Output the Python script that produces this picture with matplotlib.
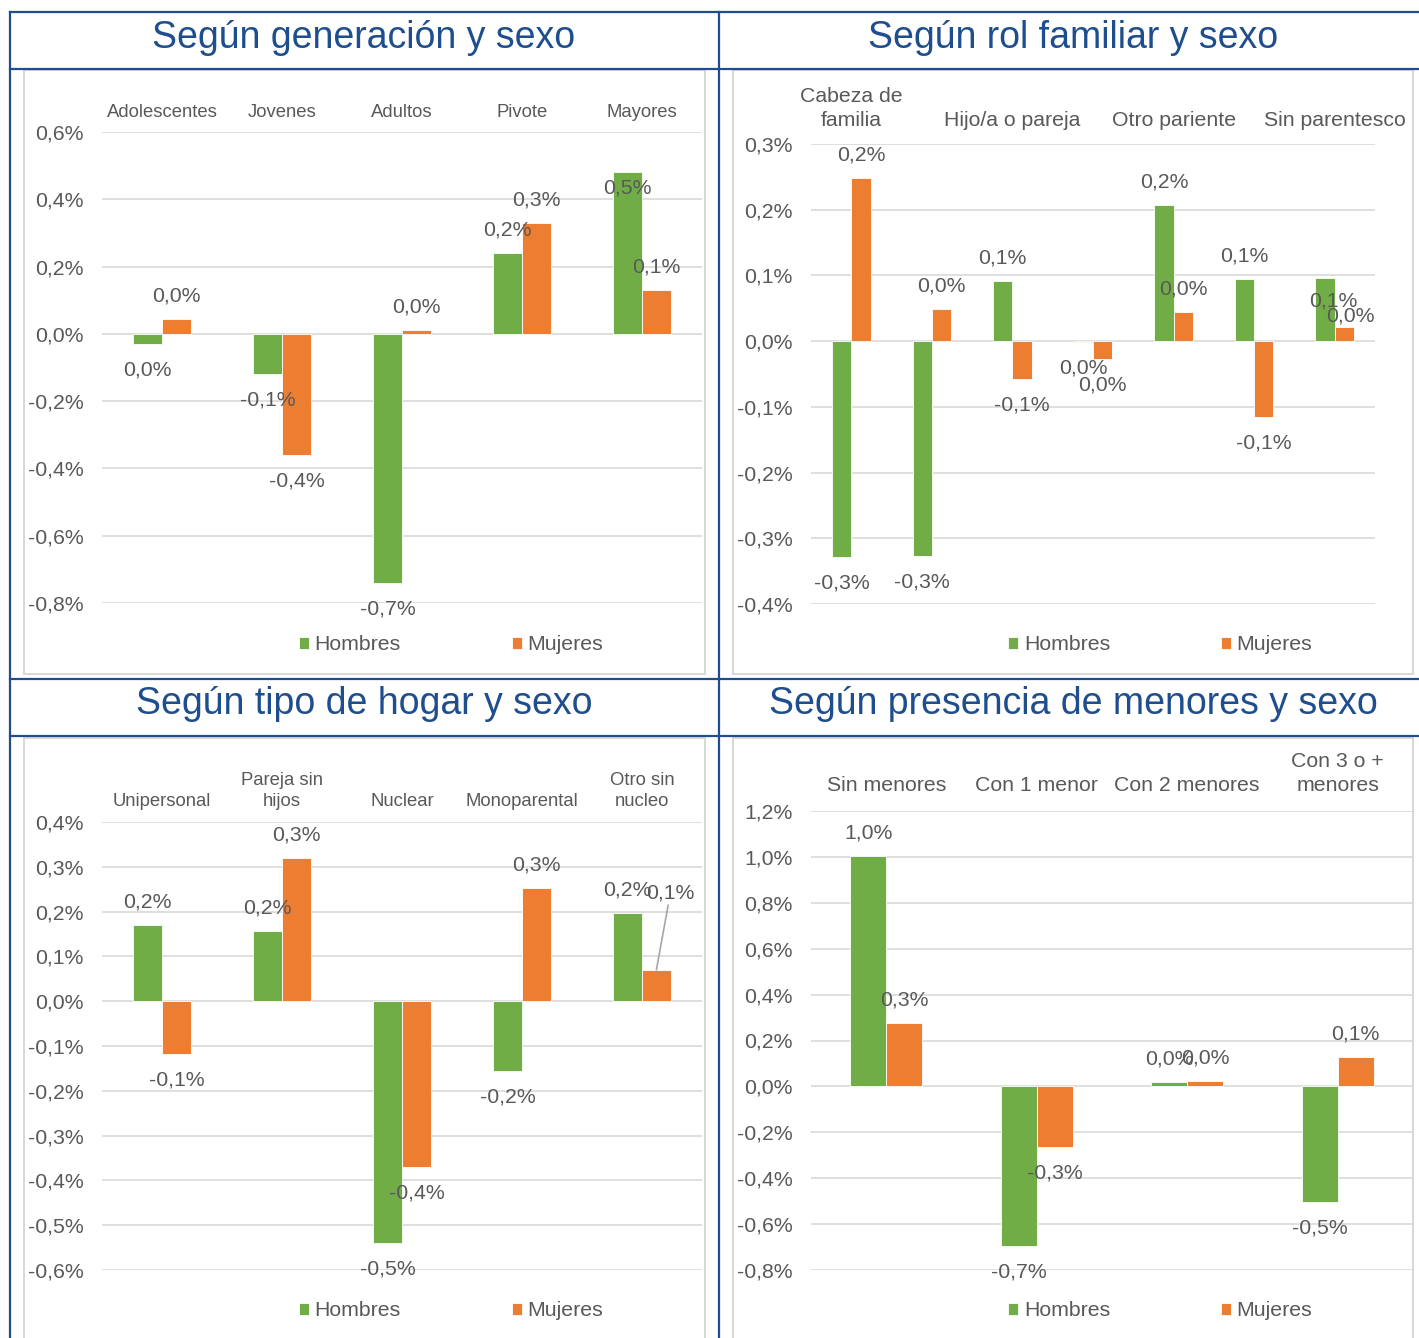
import matplotlib
matplotlib.use('Agg')
import matplotlib.pyplot as plt
from matplotlib.lines import Line2D
from matplotlib.patches import Rectangle
from matplotlib.ticker import FixedLocator, FuncFormatter
import numpy as np

plt.rcParams['font.family'] = ['Liberation Sans', 'DejaVu Sans']

#-Colours
green = '#70AD47'
orange = '#ED7D31'
txt_col = '#595959'
grid_col = '#D9D9D9'
blue = '#1F4E8F'

#-Figure size in pixels (dpi 100)
W, H = 1419, 1338

#-Data: variation in percentage points (%)
gen_cats = ['Adolescentes', 'Jovenes', 'Adultos', 'Pivote', 'Mayores']
gen_hom = [-0.03, -0.12, -0.74, 0.24, 0.48]
gen_muj = [0.045, -0.36, 0.01, 0.33, 0.13]

#-only every other category label is shown in the original
rol_cats = ['Cabeza de\nfamilia', '', 'Hijo/a o pareja', '', 'Otro pariente', '', 'Sin parentesco']
rol_hom = [-0.329, -0.327, 0.091, -0.001, 0.207, 0.094, 0.096]
rol_muj = [0.248, 0.049, -0.057, -0.027, 0.045, -0.115, 0.021]

hog_cats = ['Unipersonal', 'Pareja sin\nhijos', 'Nuclear', 'Monoparental', 'Otro sin\nnucleo']
hog_hom = [0.17, 0.156, -0.54, -0.156, 0.197]
hog_muj = [-0.118, 0.32, -0.37, 0.252, 0.07]

men_cats = ['Sin menores', 'Con 1 menor', 'Con 2 menores', 'Con 3 o +\nmenores']
men_hom = [1.003, -0.694, 0.019, -0.505]
men_muj = [0.276, -0.266, 0.025, 0.127]

series_names = ['Hombres', 'Mujeres']


def fx(x):
    return x / W


def fy(y):
    return 1 - y / H


def pct(v, pos=None):
    s = '%.1f' % v
    if s == '-0.0':
        s = '0.0'
    return s.replace('.', ',') + '%'


#-panel settings: title, title centre, plot box (px), ylim, tick step, frame box, legend centre, cat font
panels = [
    dict(title='Según generación y sexo', tc=(364, 38), box=(102, 132, 702, 603), ylim=(-0.8, 0.6), step=0.2,
         frame=(24, 70, 705, 674), leg=(451, 645), cfs=13.3, cpad=8, cats=gen_cats, hom=gen_hom, muj=gen_muj),
    dict(title='Según rol familiar y sexo', tc=(1073, 38), box=(811, 144, 1375, 604), ylim=(-0.4, 0.3), step=0.1,
         frame=(733, 70, 1413, 674), leg=(1160, 645), cfs=15.3, cpad=10.2, cats=rol_cats, hom=rol_hom,
         muj=rol_muj),
    dict(title='Según tipo de hogar y sexo', tc=(364, 704), box=(102, 822, 702, 1270), ylim=(-0.6, 0.4), step=0.1,
         frame=(24, 738, 705, 1345), leg=(451, 1311), cfs=13.3, cpad=9, cats=hog_cats, hom=hog_hom, muj=hog_muj),
    dict(title='Según presencia de menores y sexo', tc=(1073, 704), box=(811, 811, 1413, 1270), ylim=(-0.8, 1.2),
         step=0.2, frame=(733, 738, 1413, 1345), leg=(1160, 1311), cfs=15.3, cpad=11.6, cats=men_cats,
         hom=men_hom, muj=men_muj),
]

#-label position overrides (panel, series, index): (dx, dy) pixels from bar end, plus leader line flag
label_adj = {(0, 0, 4): (0, -16, False),
             (1, 0, 6): (8, -23, False),
             (1, 1, 6): (6, 11, False),
             (2, 1, 4): (14, 77, True)}

fig = plt.figure(figsize=(W / 100, H / 100), dpi=100)
fig.patch.set_facecolor('white')

bw = 0.24
for p, pn in enumerate(panels):
    #-chart frame
    x0, y0, x1, y1 = pn['frame']
    fig.patches.append(Rectangle((fx(x0), fy(y1)), fx(x1 - x0), (y1 - y0) / H, transform=fig.transFigure,
                                 fill=False, ec=grid_col, lw=1.5, zorder=0))
    #-title
    fig.text(fx(pn['tc'][0]), fy(pn['tc'][1]), pn['title'], ha='center', va='center', fontsize=27, color=blue)

    bx0, by0, bx1, by1 = pn['box']
    ax = fig.add_axes([fx(bx0), fy(by1), fx(bx1 - bx0), (by1 - by0) / H])
    n = len(pn['cats'])
    xi = np.arange(n)
    b1 = ax.bar(xi - bw / 2, pn['hom'], bw, color=green, edgecolor='white', linewidth=0.6, zorder=3,
                label=series_names[0])
    b2 = ax.bar(xi + bw / 2, pn['muj'], bw, color=orange, edgecolor='white', linewidth=0.6, zorder=3,
                label=series_names[1])

    ax.set_xlim(-0.5, n - 0.5)
    ax.set_ylim(*pn['ylim'])
    ticks = np.round(np.arange(pn['ylim'][0], pn['ylim'][1] + pn['step'] / 2, pn['step']), 3)
    ax.yaxis.set_major_locator(FixedLocator(ticks))
    ax.yaxis.set_major_formatter(FuncFormatter(pct))
    ax.grid(axis='y', color=grid_col, lw=1.2, zorder=0)
    ax.set_axisbelow(True)
    for s in ax.spines.values():
        s.set_visible(False)
    ax.tick_params(axis='y', length=0, pad=13.3, labelsize=15.3, labelcolor=txt_col)
    ax.xaxis.tick_top()
    ax.set_xticks(xi)
    ax.set_xticklabels(pn['cats'], fontsize=pn['cfs'], color=txt_col, linespacing=1.3)
    ax.tick_params(axis='x', length=0, pad=pn['cpad'])

    #-value labels
    for s, vals in enumerate([pn['hom'], pn['muj']]):
        for i, v in enumerate(vals):
            xb = i - bw / 2 if s == 0 else i + bw / 2
            dy = 23 if v >= 0 else -26
            dx = 0
            lead = False
            if (p, s, i) in label_adj:
                dx, dy, lead = label_adj[(p, s, i)]
            kw = {}
            if lead:
                kw['arrowprops'] = dict(arrowstyle='-', color='#A6A6A6', lw=1.2, shrinkA=0, shrinkB=0)
            ax.annotate(pct(v), xy=(xb, v), xytext=(dx, dy), textcoords='offset pixels', ha='center',
                        va='center', fontsize=15.3, color=txt_col, zorder=5, **kw)

    #-legend
    ax.legend(handles=[b1, b2], loc='center', bbox_to_anchor=(fx(pn['leg'][0]), fy(pn['leg'][1])),
              bbox_transform=fig.transFigure, ncol=2, frameon=False, handlelength=0.5, handleheight=0.5,
              handletextpad=0.25, columnspacing=5.2, fontsize=15.3, labelcolor=txt_col, borderpad=0)

#-blue table lines
lines = [([10, W], [12, 12]), ([10, W], [69, 69]), ([10, W], [679, 679]), ([10, W], [736, 736]),
         ([10, 10], [12, H]), ([719, 719], [12, H])]
for xs, ys in lines:
    fig.add_artist(Line2D([fx(x) for x in xs], [fy(y) for y in ys], color=blue, lw=1.6, transform=fig.transFigure))

fig.savefig('out.png', dpi=100, facecolor='white')
